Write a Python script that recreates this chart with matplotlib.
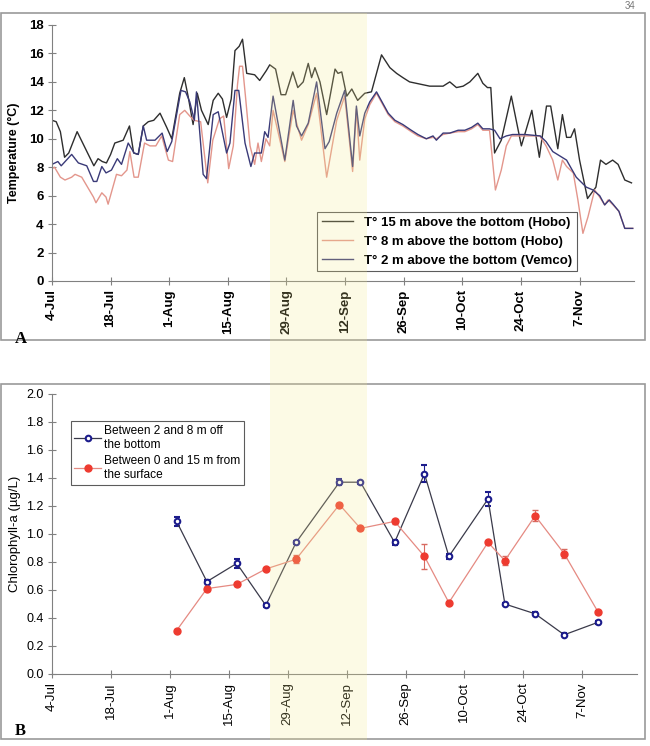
import matplotlib
matplotlib.use('Agg')
import matplotlib.pyplot as plt
from matplotlib.patches import Rectangle
from matplotlib.lines import Line2D

plt.rcParams['font.family'] = ['Liberation Sans', 'DejaVu Sans']

# x = days after 4-Jul
tick_days = [0, 14, 28, 42, 56, 70, 84, 98, 112, 126]
tick_labels = ['4-Jul', '18-Jul', '1-Aug', '15-Aug', '29-Aug', '12-Sep',
               '26-Sep', '10-Oct', '24-Oct', '7-Nov']

# panel A - temperature
t15_day = [0, 1, 2, 3, 4, 6, 8, 10, 11, 12, 13, 14, 15, 17, 18.5, 19.5, 20.6, 21.8, 23, 24.3,
           25.8, 27.4, 28.6, 30.5, 31.6, 32.5, 33.7, 34.7, 35.7, 37.3, 38.5, 39.7, 40.7, 41.7,
           42.8, 43.7, 44.7, 45.5, 46.5, 48.4, 49.6, 51.2, 52, 53.4, 54.7, 55.8, 57.5, 58.7, 60,
           61.2, 62, 62.8, 64, 65.6, 67.6, 68.3, 69.2, 70.4, 71.6, 73, 74.7, 76.3, 78.7, 80.7,
           82.3, 83.8, 85.4, 87, 88.6, 90.2, 91.8, 93.4, 95, 96.6, 98.2, 99.8, 101.7, 102.9, 104,
           104.8, 105.7, 107.3, 109.7, 112.1, 114.6, 116.4, 118.1, 119.1, 120.8, 121.9, 122.9,
           123.9, 124.8, 126, 127.9, 129.9, 131, 132.3, 133.9, 135.2, 136.8, 138.4]
t15_val = [11.3, 11.2, 10.5, 8.7, 9.0, 10.5, 9.3, 8.1, 8.6, 8.4, 8.3, 8.9, 9.7, 9.9, 10.9, 9.0,
           8.9, 10.9, 11.2, 11.3, 11.8, 10.8, 10.0, 13.2, 14.3, 13.0, 11.0, 13.2, 12.0, 11.0,
           12.7, 13.2, 12.8, 11.5, 12.8, 16.2, 16.5, 17.0, 14.6, 14.5, 14.1, 14.8, 15.2, 14.9,
           13.1, 13.1, 14.7, 13.6, 14.0, 15.3, 14.3, 15.0, 14.0, 11.7, 14.9, 14.6, 14.7, 13.0,
           13.5, 12.7, 13.2, 13.3, 15.9, 15.0, 14.6, 14.3, 14.0, 13.9, 13.8, 13.7, 13.7, 13.7,
           14.0, 13.6, 13.7, 14.0, 14.6, 13.9, 13.6, 13.6, 9.0, 9.9, 13.0, 9.5, 12.0, 8.7, 12.3,
           12.3, 9.3, 11.7, 10.1, 10.1, 10.7, 8.5, 5.8, 6.6, 8.5, 8.2, 8.5, 8.2, 7.1, 6.9]

t8_day = [0, 0.6, 2, 3.1, 4.7, 5.5, 7.1, 8.5, 9.9, 10.5, 11.9, 12.9, 13.4, 15.4, 16.6, 17.9,
          18.6, 19.6, 20.6, 22.1, 23.4, 24.8, 26.2, 27.8, 28.8, 30.5, 31.7, 32.9, 33.9, 35.5,
          37.2, 38.4, 40, 41, 42.2, 43.3, 44.3, 44.8, 45.5, 46.2, 47.3, 48.4, 49.2, 50, 51.1, 52,
          52.8, 55.6, 57.6, 58.8, 59.6, 61.2, 63.2, 65.6, 68, 69.9, 71.8, 72.7, 73.5, 74.7, 75.9,
          77.5, 80.3, 81.9, 83.8, 85.8, 87.4, 89.4, 91, 91.8, 93.4, 95, 97, 98.6, 100.2, 101.7,
          102.9, 104.5, 105.9, 107.3, 108.5, 109.7, 113, 116.5, 118, 119.6, 120.8, 121.9, 122.9,
          124.5, 125.6, 126.8, 128, 129.6, 130.8, 132, 132.8, 134, 135.4, 136.8, 138.7]
t8_val = [7.9, 8.0, 7.3, 7.1, 7.3, 7.5, 7.3, 6.6, 5.9, 5.5, 6.2, 5.9, 5.4, 7.5, 7.4, 7.8, 9.1,
          7.3, 7.3, 9.7, 9.5, 9.5, 10.2, 8.5, 8.4, 11.7, 12.0, 11.6, 11.3, 11.2, 6.9, 9.9, 11.4,
          11.6, 7.9, 9.5, 13.8, 15.1, 15.1, 13.0, 9.5, 8.2, 9.7, 8.4, 10.0, 9.5, 12.0, 8.4, 12.0,
          10.7, 9.9, 11.0, 13.2, 7.3, 11.3, 13.0, 7.7, 12.1, 8.5, 11.4, 12.4, 13.2, 11.7, 11.2,
          10.9, 10.5, 10.2, 10.0, 10.1, 10.0, 10.3, 10.4, 10.5, 10.5, 10.7, 11.0, 10.6, 10.6, 6.4,
          7.8, 9.5, 10.2, 10.2, 10.2, 9.5, 8.5, 7.1, 8.5, 8.05, 7.6, 5.7, 3.35, 4.5, 6.4, 5.9,
          5.35, 5.7, 5.35, 4.9, 3.7, 3.7]

t2_day = [0, 1.4, 2.2, 4.7, 6.3, 8.3, 9.9, 10.7, 11.9, 12.9, 14.2, 15.6, 16.6, 18.2, 19.6,
          20.6, 21.8, 22.6, 24.6, 26.3, 27.5, 28.6, 30.8, 31.9, 32.9, 34, 34.5, 36.1, 36.9, 38.5,
          39.7, 41.7, 42.5, 43.7, 44.6, 46.1, 47.5, 48.4, 49.2, 50, 50.8, 51.6, 52.8, 55.6, 57.6,
          58.4, 59.6, 61.2, 63.2, 65.2, 66.2, 68, 69.9, 71.8, 72.7, 73.5, 74.7, 75.9, 77.5, 80.3,
          81.9, 83.8, 85.8, 87.4, 89.4, 91, 91.8, 93.4, 95, 97, 98.6, 100.2, 101.7, 102.9, 104.5,
          105.7, 107, 108.5, 110, 113, 116.6, 118, 119.6, 122.9, 125.2, 127.6, 129.2, 130.8, 132,
          133.1, 134, 135.4, 136.8, 138.7]
t2_val = [8.2, 8.4, 8.1, 8.9, 8.3, 8.1, 7.0, 7.0, 8.05, 7.6, 7.8, 8.6, 8.2, 9.7, 9.0, 8.9, 10.9,
          9.9, 9.9, 10.4, 9.1, 9.8, 13.4, 13.3, 12.6, 11.3, 13.3, 7.5, 7.2, 11.7, 11.9, 9.0, 9.7,
          13.4, 13.4, 9.7, 8.05, 9.0, 9.0, 9.0, 10.5, 10.1, 13.0, 8.5, 12.7, 10.9, 10.2, 11.1,
          14.0, 9.3, 9.8, 11.8, 13.4, 8.05, 12.3, 10.2, 11.8, 12.6, 13.3, 11.8, 11.3, 11.0, 10.6,
          10.3, 10.0, 10.2, 9.9, 10.4, 10.4, 10.6, 10.6, 10.8, 11.1, 10.7, 10.7, 10.6, 10.0, 10.2,
          10.3, 10.3, 10.2, 9.8, 9.1, 8.5, 7.3, 6.6, 6.4, 6.0, 5.35, 5.7, 5.4, 4.9, 3.7, 3.7]

# panel B - chlorophyll-a
chl_day = [29.6, 36.8, 43.9, 50.8, 58, 68.3, 73.3, 81.4, 88.5, 94.3, 103.6, 107.6, 114.8,
           121.7, 129.8]
chl_bottom = [1.09, 0.66, 0.79, 0.49, 0.94, 1.37, 1.37, 0.94, 1.43, 0.84, 1.25, 0.50, 0.43,
              0.28, 0.37]
chl_bottom_err = [0.03, 0.01, 0.03, 0.01, 0.01, 0.02, 0.01, 0.02, 0.06, 0.02, 0.05, 0.01,
                  0.01, 0.01, 0.01]
chl_surface = [0.31, 0.61, 0.64, 0.75, 0.82, 1.21, 1.04, 1.09, 0.84, 0.51, 0.94, 0.81, 1.13,
               0.86, 0.44]
chl_surface_err = [0.01, 0.02, 0.01, 0.01, 0.03, 0.01, 0.01, 0.02, 0.09, 0.01, 0.01, 0.03,
                   0.04, 0.03, 0.01]

fig = plt.figure(figsize=(6.5, 7.46), dpi=100)
W, H = 650.0, 746.0

axA = fig.add_axes([52 / W, 1 - 281 / H, 582 / W, 256 / H])
axB = fig.add_axes([52 / W, 1 - 674 / H, 585 / W, 280 / H])

axA.plot(t15_day, t15_val, color='#2e2e2e', lw=1.0, label='T° 15 m above the bottom (Hobo)')
axA.plot(t8_day, t8_val, color='#e3968c', lw=1.0, label='T° 8 m above the bottom (Hobo)')
axA.plot(t2_day, t2_val, color='#3a3a78', lw=1.0, label='T° 2 m above the bottom (Vemco)')
axA.set_ylim(0, 18)
axA.set_yticks(range(0, 19, 2))
axA.set_ylabel('Temperature (°C)', fontsize=9, fontweight='bold', labelpad=6)
legA = axA.legend(loc='lower right', bbox_to_anchor=(0.913, 0.012), fontsize=9.5,
                  frameon=True, fancybox=False, edgecolor='#333333', handlelength=2.4,
                  borderpad=0.35, labelspacing=0.5)
for t in legA.get_texts():
    t.set_fontweight('bold')
legA.get_frame().set_linewidth(0.8)

axB.errorbar(chl_day, chl_bottom, yerr=chl_bottom_err, color='#3a3a4a', lw=0.9,
             marker='o', ms=4, mfc='white', mec='#1c1c8c', mew=1.5, ecolor='#1c1c8c',
             elinewidth=0.8, capsize=2.5)
axB.errorbar(chl_day, chl_surface, yerr=chl_surface_err, color='#e58a82', lw=0.9,
             marker='o', ms=5, mfc='#ee3b30', mec='#ee3b30', ecolor='#d86a60',
             elinewidth=0.8, capsize=2.5)
axB.set_ylim(0, 2.0)
axB.set_yticks([i / 10 for i in range(0, 21, 2)])
axB.set_yticklabels(['%.1f' % (i / 10) for i in range(0, 21, 2)])
axB.set_ylabel('Chlorophyll-a (µg/L)', fontsize=9.5, labelpad=4)
handles = [Line2D([], [], color='#3a3a4a', lw=0.9, marker='o', ms=4, mfc='white',
                  mec='#1c1c8c', mew=1.5),
           Line2D([], [], color='#e58a82', lw=0.9, marker='o', ms=5, mfc='#ee3b30',
                  mec='#ee3b30')]
legB = axB.legend(handles, ['Between 2 and 8 m off\nthe bottom',
                            'Between 0 and 15 m from\nthe surface'],
                  loc='upper left', bbox_to_anchor=(0.022, 0.925), fontsize=8.6,
                  frameon=True, fancybox=False, edgecolor='#333333', handlelength=2.2,
                  borderpad=0.3, labelspacing=0.35, handletextpad=0.3)
legB.get_frame().set_linewidth(0.8)
for t in legB.get_texts():
    t.set_linespacing(1.25)

for ax, bold in ((axA, True), (axB, False)):
    ax.set_xlim(0, 139)
    ax.set_xticks(tick_days)
    ax.set_xticklabels(tick_labels, rotation=90, fontsize=9.5,
                       fontweight='bold' if bold else 'normal')
    for lab in ax.get_yticklabels():
        lab.set_fontsize(9.5 if bold else 9)
        lab.set_fontweight('bold' if bold else 'normal')
    for s in ('top', 'right'):
        ax.spines[s].set_visible(False)
    for s in ('left', 'bottom'):
        ax.spines[s].set_color('#808080')
    ax.tick_params(direction='inout', length=6, color='#808080', width=0.8, pad=3)
    ax.patch.set_alpha(0)

# panel frames
for y0, y1 in ((13, 340), (384, 739)):
    fig.patches.append(Rectangle((1 / W, 1 - y1 / H), 644 / W, (y1 - y0) / H,
                                 transform=fig.transFigure, fill=False,
                                 edgecolor='#9a9a9a', lw=1.2))

# highlighted period (yellow band across both panels)
fig.patches.append(Rectangle((270 / W, 1 - 740 / H), 97 / W, 727 / H,
                             transform=fig.transFigure, facecolor='#f3e98c',
                             edgecolor='none', alpha=0.22, zorder=10))

fig.text(15 / W, 1 - 339 / H, 'A', fontsize=12, fontweight='bold', family='Liberation Serif',
         ha='left', va='center')
fig.text(15 / W, 1 - 731 / H, 'B', fontsize=12, fontweight='bold', family='Liberation Serif',
         ha='left', va='center')
fig.text(630 / W, 1 - 1 / H, '34', fontsize=7, color='#777777', ha='center', va='top')

fig.savefig('out.png', dpi=100)
